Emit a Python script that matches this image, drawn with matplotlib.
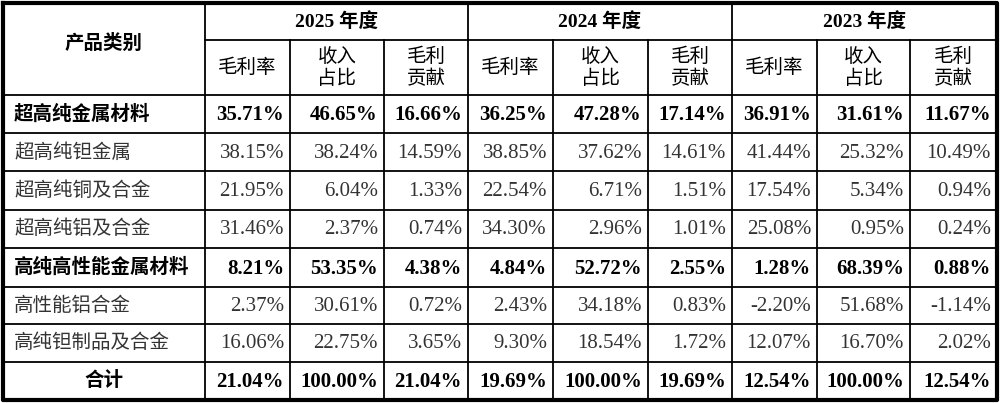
import matplotlib
matplotlib.use('Agg')
import matplotlib.pyplot as plt

years = ["2025 年度", "2024 年度", "2023 年度"]
sub_headers = ["毛利率", "收入\n占比", "毛利\n贡献"]
categories = ["超高纯金属材料", "超高纯钽金属", "超高纯铜及合金", "超高纯铝及合金",
              "高纯高性能金属材料", "高性能铝合金", "高纯钽制品及合金", "合计"]
bold_rows = [0, 4, 7]
values = [
    ["35.71%", "46.65%", "16.66%", "36.25%", "47.28%", "17.14%", "36.91%", "31.61%", "11.67%"],
    ["38.15%", "38.24%", "14.59%", "38.85%", "37.62%", "14.61%", "41.44%", "25.32%", "10.49%"],
    ["21.95%", "6.04%", "1.33%", "22.54%", "6.71%", "1.51%", "17.54%", "5.34%", "0.94%"],
    ["31.46%", "2.37%", "0.74%", "34.30%", "2.96%", "1.01%", "25.08%", "0.95%", "0.24%"],
    ["8.21%", "53.35%", "4.38%", "4.84%", "52.72%", "2.55%", "1.28%", "68.39%", "0.88%"],
    ["2.37%", "30.61%", "0.72%", "2.43%", "34.18%", "0.83%", "-2.20%", "51.68%", "-1.14%"],
    ["16.06%", "22.75%", "3.65%", "9.30%", "18.54%", "1.72%", "12.07%", "16.70%", "2.02%"],
    ["21.04%", "100.00%", "21.04%", "19.69%", "100.00%", "19.69%", "12.54%", "100.00%", "12.54%"],
]

# pixel grid of the table
col_x = [3, 205, 290, 384, 468, 553, 648, 732, 817, 910, 997]
row_y = [3, 40, 95, 133, 171, 210, 248, 287, 324, 362, 400]

cjk = ['Noto Sans CJK SC', 'DejaVu Sans']
num = ['Liberation Serif']

fig = plt.figure(figsize=(10, 4.03), dpi=100)
ax = fig.add_axes([0, 0, 1, 1])
ax.set_xlim(0, 1000)
ax.set_ylim(403, 0)
ax.axis('off')

lw = 1.3
# horizontal lines
for i, y in enumerate(row_y):
    if i == 1:
        for g in range(3):
            ax.plot([col_x[1 + 3 * g], col_x[4 + 3 * g]], [y, y], color='black', lw=lw)
    else:
        ax.plot([col_x[0], col_x[-1]], [y, y], color='black', lw=lw)
# vertical lines
for j, x in enumerate(col_x):
    if j in (0, 1, 4, 7, 10):
        ax.plot([x, x], [row_y[0], row_y[-1]], color='black', lw=lw)
    else:
        ax.plot([x, x], [row_y[1], row_y[-1]], color='black', lw=lw)
# outer border, thicker
ax.plot([col_x[0], col_x[-1], col_x[-1], col_x[0], col_x[0]],
        [row_y[0], row_y[0], row_y[-1], row_y[-1], row_y[0]], color='black', lw=3)

fs = 14
# header
ax.text((col_x[0] + col_x[1]) / 2, (row_y[0] + row_y[2]) / 2 - 6, "产品类别",
        ha='center', va='center', fontsize=fs, family=cjk, fontweight='bold')
for g, yr in enumerate(years):
    cx = (col_x[1 + 3 * g] + col_x[4 + 3 * g]) / 2
    ax.text(cx, (row_y[0] + row_y[1]) / 2, yr, ha='center', va='center',
            fontsize=fs, family=['Liberation Serif', 'Noto Sans CJK SC'], fontweight='bold')
    for k, sh in enumerate(sub_headers):
        c = 1 + 3 * g + k
        ax.text((col_x[c] + col_x[c + 1]) / 2, (row_y[1] + row_y[2]) / 2, sh,
                ha='center', va='center', fontsize=fs, family=cjk, linespacing=1.1)

# body
for r, cat in enumerate(categories):
    yc = (row_y[2 + r] + row_y[3 + r]) / 2
    bold = r in bold_rows
    w = 'bold' if bold else 'normal'
    colr = 'black' if bold else '#333333'
    if cat == "合计":
        ax.text((col_x[0] + col_x[1]) / 2, yc, cat, ha='center', va='center',
                fontsize=fs, family=cjk, fontweight=w)
    else:
        ax.text(col_x[0] + 11, yc, cat, ha='left', va='center',
                fontsize=fs, family=cjk, fontweight=w, color=colr)
    for c, v in enumerate(values[r]):
        ax.text(col_x[c + 2] - 6, yc + 1, v, ha='right', va='center',
                fontsize=15, family=num, fontweight=w, color=colr)

fig.savefig('out.png', dpi=100, facecolor='white')
plt.close(fig)
